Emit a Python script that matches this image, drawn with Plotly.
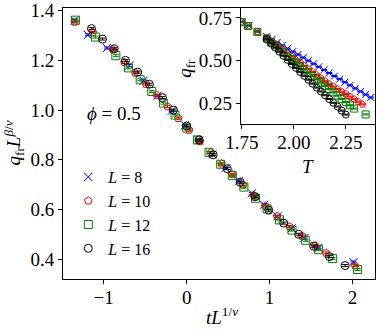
import plotly.graph_objects as go

# ---- main panel: scaled data, x = t L^(1/nu), y = q_fr L^(beta/nu)
x8 = [-1.35, -1.19, -0.96, -0.69, -0.52, -0.35, -0.18, -0.02, 0.15, 0.31, 0.47, 0.63,
      0.785, 0.934, 1.094, 1.267, 1.42, 1.588, 2.01]
y8 = [1.360, 1.303, 1.250, 1.180, 1.118, 1.058, 0.997, 0.939, 0.878, 0.822, 0.767, 0.715,
      0.665, 0.619, 0.572, 0.524, 0.485, 0.445, 0.388]

x10 = [-1.35, -1.13, -0.886, -0.75, -0.62, -0.49, -0.36, -0.23, -0.10, 0.03, 0.16, 0.29,
       0.42, 0.55, 0.68, 0.81, 0.95, 1.09, 1.24, 1.39, 1.55, 1.68, 2.03]
y10 = [1.355, 1.313, 1.243, 1.192, 1.150, 1.105, 1.060, 1.014, 0.967, 0.920, 0.874, 0.829,
       0.784, 0.741, 0.699, 0.657, 0.614, 0.573, 0.531, 0.493, 0.454, 0.425, 0.374]

x12 = [-1.34, -1.10, -0.853, -0.70, -0.56, -0.42, -0.28, -0.14, 0.00, 0.13, 0.27, 0.41,
       0.55, 0.69, 0.83, 0.97, 1.12, 1.27, 1.43, 1.59, 1.76, 2.06]
y12 = [1.362, 1.294, 1.219, 1.170, 1.122, 1.075, 1.028, 0.980, 0.928, 0.880, 0.830, 0.782,
       0.736, 0.690, 0.645, 0.602, 0.558, 0.517, 0.476, 0.438, 0.402, 0.358]

x16 = [-1.147, -1.014, -0.873, -0.737, -0.59, -0.448, -0.292, -0.159, 0.00, 0.15, 0.32,
       0.49, 0.645, 0.825, 0.99, 1.17, 1.35, 1.53, 1.72, 1.91]
y16 = [1.328, 1.286, 1.247, 1.200, 1.153, 1.104, 1.050, 1.000, 0.936, 0.880, 0.820,
       0.764, 0.710, 0.651, 0.597, 0.545, 0.500, 0.452, 0.410, 0.374]

# ---- inset: raw q_fr vs T
T8 = [1.75, 1.785, 1.825, 1.87, 1.895, 1.92, 1.945, 1.97, 1.995, 2.02, 2.045, 2.07, 2.095,
      2.12, 2.145, 2.17, 2.195, 2.22, 2.245, 2.27, 2.295, 2.32, 2.345, 2.37]
q8 = [0.728, 0.705, 0.672, 0.641, 0.624, 0.607, 0.589, 0.571, 0.553, 0.536, 0.518, 0.500,
      0.482, 0.464, 0.446, 0.428, 0.410, 0.392, 0.374, 0.356, 0.338, 0.320, 0.302, 0.285]

T10 = [1.75, 1.78, 1.825, 1.87, 1.89, 1.91, 1.93, 1.95, 1.97, 1.99, 2.01, 2.03, 2.05, 2.07,
       2.09, 2.11, 2.13, 2.15, 2.17, 2.19, 2.21, 2.23, 2.25, 2.27, 2.29, 2.31, 2.33]
q10 = [0.726, 0.703, 0.670, 0.634, 0.616, 0.597, 0.579, 0.561, 0.543, 0.524, 0.506, 0.488,
       0.470, 0.452, 0.434, 0.416, 0.398, 0.380, 0.364, 0.349, 0.334, 0.319, 0.305, 0.290,
       0.275, 0.260, 0.245]

T12 = [1.75, 1.78, 1.825, 1.87, 1.89, 1.91, 1.93, 1.95, 1.97, 1.99, 2.01, 2.03, 2.05, 2.07,
       2.09, 2.11, 2.13, 2.15, 2.17, 2.19, 2.21, 2.23, 2.25, 2.27, 2.29, 2.345]
q12 = [0.725, 0.703, 0.668, 0.630, 0.610, 0.590, 0.570, 0.550, 0.530, 0.510, 0.490, 0.470,
       0.450, 0.430, 0.410, 0.391, 0.372, 0.353, 0.334, 0.315, 0.296, 0.277, 0.258, 0.239,
       0.220, 0.186]

T16 = [1.87, 1.89, 1.91, 1.93, 1.95, 1.97, 1.99, 2.01, 2.03, 2.05, 2.07, 2.09, 2.11, 2.13,
       2.15, 2.17, 2.19, 2.21, 2.23, 2.25]
q16 = [0.625, 0.601, 0.577, 0.553, 0.529, 0.505, 0.481, 0.458, 0.435, 0.412, 0.389, 0.366,
       0.343, 0.320, 0.298, 0.276, 0.254, 0.232, 0.208, 0.185]

sizes = ["8", "10", "12", "16"]
colors = ["#0000ff", "#ff0000", "#008000", "#000000"]
symbols = ["x-thin-open", "pentagon-open", "square-open", "circle-open"]
main_data = [(x8, y8), (x10, y10), (x12, y12), (x16, y16)]
inset_data = [(T8, q8), (T10, q10), (T12, q12), (T16, q16)]

FONT = "Liberation Serif"

fig = go.Figure()

for lab, c, s, (xx, yy) in zip(sizes, colors, symbols, main_data):
    fig.add_trace(go.Scatter(
        x=xx, y=yy, mode="markers", name=f"<i>L</i> = {lab}",
        marker=dict(symbol=s, size=8, color=c, line=dict(width=1, color=c)),
        error_y=dict(type="constant", value=0.004, width=3, thickness=1, color=c),
        xaxis="x", yaxis="y"
    ))

for c, s, (xx, yy) in zip(colors, symbols, inset_data):
    fig.add_trace(go.Scatter(
        x=xx, y=yy, mode="markers", showlegend=False,
        marker=dict(symbol=s, size=7, color=c, line=dict(width=1, color=c)),
        error_y=dict(type="constant", value=0.003, width=3, thickness=1, color=c),
        xaxis="x2", yaxis="y2"
    ))

axis_style = dict(showline=True, linecolor="black", linewidth=1, mirror=True,
                  ticks="outside", ticklen=4, tickwidth=1, tickcolor="black",
                  showgrid=False, zeroline=False, automargin=False,
                  tickfont=dict(family=FONT, size=19, color="black"))

title_font = dict(family=FONT, size=19, color="black")

fig.update_layout(
    width=379, height=332,
    margin=dict(l=63, r=4, t=8, b=53),
    plot_bgcolor="white", paper_bgcolor="white",
    font=dict(family=FONT, size=19, color="black"),
    xaxis=dict(range=[-1.49, 2.27], tickvals=[-1, 0, 1, 2], domain=[0, 1],
               ticklabelstandoff=-3, **axis_style),
    yaxis=dict(range=[0.32, 1.411], tickvals=[0.4, 0.6, 0.8, 1.0, 1.2, 1.4],
               tickformat=".1f", domain=[0, 1], **axis_style),
    xaxis2=dict(range=[1.745, 2.39], tickvals=[1.75, 2.0, 2.25], tickformat=".2f",
                domain=[0.5696, 1], anchor="y2", ticklabelstandoff=-3, **axis_style),
    yaxis2=dict(range=[0.13, 0.808], tickvals=[0.25, 0.5, 0.75], tickformat=".2f",
                domain=[0.572, 1], anchor="x2", **axis_style),
    legend=dict(x=0.017, y=0.439, xanchor="left", yanchor="top",
                bgcolor="rgba(0,0,0,0)", font=dict(family=FONT, size=16),
                itemwidth=30, tracegroupgap=0),
    annotations=[
        dict(text="<i>ϕ</i> = 0.5", x=-0.88, y=0.988, xref="x", yref="y",
             showarrow=False, font=title_font),
        dict(text="<i>tL</i><sup>1/<i>ν</i></sup>", x=0.51, y=-0.137,
             xref="paper", yref="paper", xanchor="center", yanchor="middle",
             showarrow=False, font=title_font),
        dict(text="<i>q</i><sub>fr</sub><i>L</i><sup><i>β</i>/<i>ν</i></sup>",
             x=-0.157, y=0.50, xref="paper", yref="paper", textangle=-90,
             xanchor="center", yanchor="middle", showarrow=False, font=title_font),
        dict(text="<i>T</i>", x=0.786, y=0.415, xref="paper", yref="paper",
             xanchor="center", yanchor="middle", showarrow=False, font=title_font),
        dict(text="<i>q</i><sub>fr</sub>", x=0.394, y=0.779, xref="paper", yref="paper",
             textangle=-90, xanchor="center", yanchor="middle", showarrow=False,
             font=title_font),
    ],
)

# drop the default 8px page margin so the figure sits at the window's corner
fig.write_html("out.html", config={"displayModeBar": False},
               post_script="document.body.style.margin='0px';")
